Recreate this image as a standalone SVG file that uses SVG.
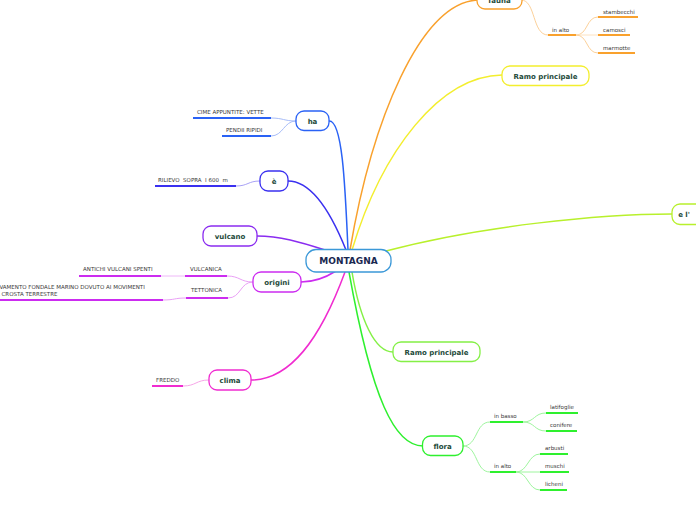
<svg xmlns="http://www.w3.org/2000/svg" width="696" height="520" viewBox="0 0 696 520">
<style>
.nb{fill:#fff;stroke-width:1.3}
.nt{font-family:"DejaVu Sans",Verdana,sans-serif;font-weight:bold;font-size:7px;fill:#1d4a3a;text-anchor:middle}
.lt{font-family:"DejaVu Sans",Verdana,sans-serif;font-size:5.5px;fill:#383838}
.main{fill:none;stroke-width:1.5}
.sub{fill:none;stroke-width:1}
.ul{stroke-width:2}
</style>
<rect width="696" height="520" fill="#fff"/>
<g id="connectors">
<path class="main" stroke="#f9a12d" d="M350,250 C372,120 420,4 477,0"/>
<path class="main" stroke="#f3ee2e" d="M352,250 C382,150 440,76 502,75"/>
<path class="main" stroke="#b8f02c" d="M386,251 C480,226 600,214 672,214"/>
<path class="main" stroke="#84f046" d="M352,272 C360,320 375,352 393,352"/>
<path class="main" stroke="#2ef02e" d="M349,272 C372,400 395,446 423,446"/>
<path class="main" stroke="#f02cd0" d="M345,272 C320,340 290,380 251,380"/>
<path class="main" stroke="#cc2cf0" d="M336,271 C325,278 315,282 301,282"/>
<path class="main" stroke="#8a2cf0" d="M325,250 C300,242 280,236 257,236"/>
<path class="main" stroke="#3a30f0" d="M346,250 C330,210 310,181 288,181"/>
<path class="main" stroke="#2a62f5" d="M348,250 C345,180 342,120 329,121"/>
<path class="sub" stroke="#a8bdf8" d="M296,121 C284,121 283,118 271,118"/>
<path class="sub" stroke="#a8bdf8" d="M296,121 C284,121 283,136 271,136"/>
<path class="sub" stroke="#a9a2f6" d="M260,181 C248,181 248,186 236,186"/>
<path class="sub" stroke="#eaa0f6" d="M253,282 C240,282 240,276 227,276"/>
<path class="sub" stroke="#eaa0f6" d="M253,282 C240,282 241,298 228,298"/>
<path class="sub" stroke="#eeb8f8" stroke-width="1.6" d="M161,276 L185,276"/>
<path class="sub" stroke="#eaa0f6" d="M186,298 C174,298 175,300 163,300"/>
<path class="sub" stroke="#f7a6e8" d="M209,380 C196,380 196,386 183,386"/>
<path class="sub" stroke="#fcd19a" d="M521,0 C536,0 532,35 548,35"/>
<path class="sub" stroke="#fcd19a" d="M576,35 C588,35 586,17 598,17"/>
<path class="sub" stroke="#fde2c0" stroke-width="1.6" d="M576,35 L598,35"/>
<path class="sub" stroke="#fcd19a" d="M576,35 C588,35 586,53 598,53"/>
<path class="sub" stroke="#9ef59e" d="M463,446 C478,446 475,422 490,422"/>
<path class="sub" stroke="#9ef59e" d="M463,446 C478,446 475,472 490,472"/>
<path class="sub" stroke="#9ef59e" d="M523,422 C535,422 534,413 546,413"/>
<path class="sub" stroke="#9ef59e" d="M523,422 C535,422 534,431 546,431"/>
<path class="sub" stroke="#9ef59e" d="M516,472 C528,472 528,454 540,454"/>
<path class="sub" stroke="#9ef59e" d="M516,472 L540,472"/>
<path class="sub" stroke="#9ef59e" d="M516,472 C528,472 528,490 540,490"/>
</g>
<g id="montagna">
<rect class="nb" x="306" y="249.5" width="85" height="22.5" rx="10" fill="#f7fbff" stroke="#3b98d8"/>
<text x="348.5" y="264.3" font-family="DejaVu Sans,Verdana,sans-serif" font-weight="bold" font-size="9px" fill="#1a2850" text-anchor="middle">MONTAGNA</text>
</g>
<g id="fauna">
<rect class="nb" x="477" y="-11" width="45" height="20" rx="8" stroke="#f9a12d"/>
<text class="nt" x="499.5" y="2.5">fauna</text>
</g>
<g id="fauna-in-alto">
<text class="lt" x="552" y="31.5">in alto</text>
<line class="ul" x1="548" y1="35" x2="576" y2="35" stroke="#f9a12d"/>
</g>
<g id="stambecchi">
<text class="lt" x="603" y="13.5">stambecchi</text>
<line class="ul" x1="598" y1="17" x2="638" y2="17" stroke="#f9a12d"/>
</g>
<g id="camosci">
<text class="lt" x="603" y="31.5">camosci</text>
<line class="ul" x1="598" y1="35" x2="630" y2="35" stroke="#f9a12d"/>
</g>
<g id="marmotte">
<text class="lt" x="603" y="49.5">marmotte</text>
<line class="ul" x1="598" y1="53" x2="635" y2="53" stroke="#f9a12d"/>
</g>
<g id="ramo-giallo">
<rect class="nb" x="502" y="66" width="87" height="19.5" rx="8" stroke="#f3ee2e"/>
<text class="nt" x="545.5" y="78.5">Ramo principale</text>
</g>
<g id="el">
<rect class="nb" x="672" y="204" width="40" height="20.5" rx="8" stroke="#b8f02c"/>
<text class="nt" x="684" y="216.8" text-anchor="start">e l'</text>
</g>
<g id="ramo-verde">
<rect class="nb" x="393" y="342" width="87" height="19.5" rx="8" stroke="#84f046"/>
<text class="nt" x="436.5" y="354.5">Ramo principale</text>
</g>
<g id="flora">
<rect class="nb" x="422.5" y="436" width="40.5" height="19.5" rx="8" stroke="#2ef02e"/>
<text class="nt" x="442.7" y="448.5">flora</text>
</g>
<g id="in-basso">
<text class="lt" x="494" y="418">in basso</text>
<line class="ul" x1="490" y1="422" x2="523" y2="422" stroke="#2ef02e"/>
</g>
<g id="latifoglie">
<text class="lt" x="550" y="409">latifoglie</text>
<line class="ul" x1="546" y1="413" x2="578" y2="413" stroke="#2ef02e"/>
</g>
<g id="conifere">
<text class="lt" x="550" y="427">conifere</text>
<line class="ul" x1="546" y1="431" x2="577" y2="431" stroke="#2ef02e"/>
</g>
<g id="flora-in-alto">
<text class="lt" x="494" y="468">in alto</text>
<line class="ul" x1="490" y1="472" x2="516" y2="472" stroke="#2ef02e"/>
</g>
<g id="arbusti">
<text class="lt" x="545" y="450">arbusti</text>
<line class="ul" x1="540" y1="454" x2="568" y2="454" stroke="#2ef02e"/>
</g>
<g id="muschi">
<text class="lt" x="545" y="468">muschi</text>
<line class="ul" x1="540" y1="472" x2="569" y2="472" stroke="#2ef02e"/>
</g>
<g id="licheni">
<text class="lt" x="545" y="486">licheni</text>
<line class="ul" x1="540" y1="490" x2="567" y2="490" stroke="#2ef02e"/>
</g>
<g id="ha">
<rect class="nb" x="296" y="111" width="33" height="19.5" rx="8" stroke="#2a62f5"/>
<text class="nt" x="312.5" y="123.5">ha</text>
</g>
<g id="cime">
<text class="lt" x="197" y="114">CIME APPUNTITE: VETTE</text>
<line class="ul" x1="193" y1="118" x2="271" y2="118" stroke="#2a62f5"/>
</g>
<g id="pendii">
<text class="lt" x="226" y="132">PENDII RIPIDI</text>
<line class="ul" x1="222" y1="136" x2="271" y2="136" stroke="#2a62f5"/>
</g>
<g id="e">
<rect class="nb" x="260" y="171" width="28" height="20" rx="8" stroke="#3a30f0"/>
<text class="nt" x="274" y="183.5">è</text>
</g>
<g id="rilievo">
<text class="lt" x="158" y="182" xml:space="preserve">RILIEVO  SOPRA  I 600  m</text>
<line class="ul" x1="155" y1="186" x2="236" y2="186" stroke="#3a30f0"/>
</g>
<g id="vulcano">
<rect class="nb" x="203" y="226" width="54" height="20" rx="8" stroke="#8a2cf0"/>
<text class="nt" x="230" y="238.5">vulcano</text>
</g>
<g id="origini">
<rect class="nb" x="253" y="272" width="48" height="20" rx="8" stroke="#cc2cf0"/>
<text class="nt" x="277" y="284.5">origini</text>
</g>
<g id="vulcanica">
<text class="lt" x="190" y="271">VULCANICA</text>
<line class="ul" x1="185" y1="276" x2="227" y2="276" stroke="#cc2cf0"/>
</g>
<g id="antichi">
<text class="lt" x="83" y="271">ANTICHI VULCANI SPENTI</text>
<line class="ul" x1="79" y1="276" x2="161" y2="276" stroke="#cc2cf0"/>
</g>
<g id="tettonica">
<text class="lt" x="191" y="292">TETTONICA</text>
<line class="ul" x1="186" y1="298" x2="228" y2="298" stroke="#cc2cf0"/>
</g>
<g id="sollevamento">
<text class="lt" x="-18" y="289">SOLLEVAMENTO FONDALE MARINO DOVUTO AI MOVIMENTI</text>
<text class="lt" x="-18" y="296">DELLA CROSTA TERRESTRE</text>
<line class="ul" x1="-2" y1="300" x2="163" y2="300" stroke="#cc2cf0"/>
</g>
<g id="clima">
<rect class="nb" x="209" y="370" width="42" height="20" rx="8" stroke="#f02cd0"/>
<text class="nt" x="230" y="382.5">clima</text>
</g>
<g id="freddo">
<text class="lt" x="156" y="382">FREDDO</text>
<line class="ul" x1="152" y1="386" x2="183" y2="386" stroke="#f02cd0"/>
</g>
</svg>
